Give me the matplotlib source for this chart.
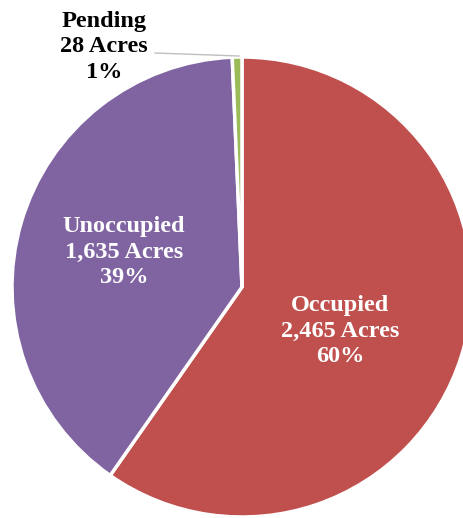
import matplotlib
matplotlib.use("Agg")
import matplotlib.pyplot as plt

categories = ["Occupied", "Unoccupied", "Pending"]
acres = [2465, 1635, 28]
percents = ["60%", "39%", "1%"]
colors = ["#C0504D", "#8064A2", "#9BBB59"]

W, H = 464, 518
fig = plt.figure(figsize=(W / 100, H / 100), dpi=100)
ax = fig.add_axes([0, 0, 1, 1])

cx, cy, r = 242, H - 287, 230
ax.pie(acres, colors=colors, startangle=90, counterclock=False,
       center=(cx, cy), radius=r, frame=True,
       wedgeprops=dict(edgecolor="white", linewidth=2.5))
ax.set_xlim(0, W)
ax.set_ylim(0, H)
ax.set_aspect("equal")
ax.axis("off")

labels = [f"{c}\n{a:,} Acres\n{p}" for c, a, p in zip(categories, acres, percents)]
font = dict(family="Liberation Serif", fontweight="bold", fontsize=17.5,
            ha="center", va="center", linespacing=1.3)
ax.text(340, H - 331, labels[0], color="white", **font)
ax.text(124, H - 252, labels[1], color="white", **font)
ax.text(104, H - 47, labels[2], color="black", **font)
ax.plot([155, 239], [H - 53, H - 56], color="#BFBFBF", lw=1)

fig.savefig("out.png", dpi=100)
